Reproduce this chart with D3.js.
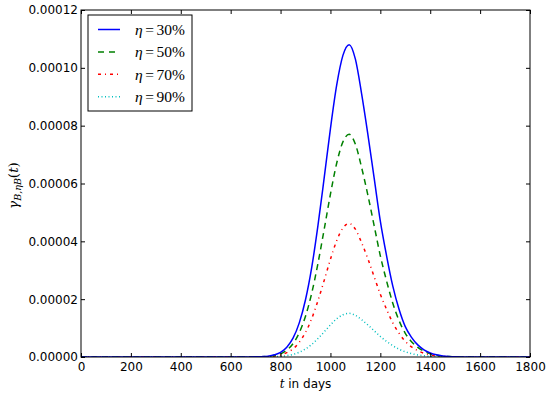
<!DOCTYPE html>
<html>
<head>
<meta charset="utf-8">
<script src="https://cdnjs.cloudflare.com/ajax/libs/d3/7.8.5/d3.min.js"></script>
<style>
body { margin: 0; background: #fff; }
.tick text { font-family: "DejaVu Sans", sans-serif; font-size: 12px; fill: #000; }
.tick line { stroke: #000; }
</style>
</head>
<body>
<div id="chart-area"></div>
<script>
/*
*    gamma curves for different eta
*/

// sample days
var days = [0, 650, 675, 700, 725, 750, 775, 800, 825, 850, 875, 900, 925, 950, 975,
    1000, 1025, 1050, 1075, 1100, 1125, 1150, 1175, 1200, 1225, 1250, 1275, 1300,
    1325, 1350, 1375, 1400, 1425, 1450, 1475, 1500, 1525, 1550, 1800];

// values in units of 1e-6
var eta30 = [0, 0.01, 0.02, 0.05, 0.12, 0.3, 0.75, 1.6, 3.4, 6.5, 11.8, 19.8, 31, 45.5, 62,
    79, 94, 104.3, 108, 103, 91, 77, 62, 47, 35, 24.5, 16.5, 10.5,
    6.8, 4.2, 2.5, 1.4, 0.75, 0.38, 0.18, 0.08, 0.03, 0, 0];
var eta50 = [0, 0, 0.01, 0.03, 0.08, 0.2, 0.5, 1.1, 2.4, 4.6, 8.4, 14.1, 22.1, 32.4, 44.2,
    56.3, 67, 74.4, 77, 73.6, 65.5, 56, 45.5, 35, 26.3, 18.6, 12.6, 8.2,
    5.3, 3.3, 2, 1.1, 0.6, 0.3, 0.14, 0.06, 0.02, 0, 0];
var eta70 = [0, 0, 0, 0.02, 0.05, 0.13, 0.32, 0.7, 1.5, 2.8, 5.1, 8.5, 13.3, 19.5, 26.5,
    33.8, 40.2, 44.6, 46.2, 44.2, 39.5, 34, 27.8, 21.7, 16.5, 11.8, 8.2, 5.4,
    3.5, 2.2, 1.3, 0.75, 0.4, 0.2, 0.09, 0.04, 0.01, 0, 0];
var eta90 = [0, 0, 0, 0.01, 0.02, 0.04, 0.1, 0.22, 0.48, 0.9, 1.65, 2.8, 4.35, 6.4, 8.7,
    11.1, 13.2, 14.6, 15.1, 14.4, 12.9, 11.1, 9.1, 7.1, 5.4, 3.9, 2.7, 1.8,
    1.15, 0.72, 0.43, 0.25, 0.13, 0.07, 0.03, 0.01, 0, 0, 0];

var seriesNames = ["30%", "50%", "70%", "90%"];
var xTicks = [0, 200, 400, 600, 800, 1000, 1200, 1400, 1600, 1800];
var yTicks = [0, 0.00002, 0.00004, 0.00006, 0.00008, 0.0001, 0.00012];

var margin = { left: 81, right: 20, top: 10, bottom: 37 },
    width = 550 - margin.left - margin.right,
    height = 394 - margin.top - margin.bottom;

var svg = d3.select("#chart-area").append("svg")
    .attr("width", 550)
    .attr("height", 394)
    .style("background", "#fff");
var g = svg.append("g")
    .attr("transform", "translate(" + margin.left + "," + margin.top + ")");

var x = d3.scaleLinear().domain([0, 1800]).range([0, width]);
var y = d3.scaleLinear().domain([0, 0.00012]).range([height, 0]);

g.append("clipPath").attr("id", "clip")
    .append("rect").attr("width", width).attr("height", height);

var styles = [
    { color: "#0000ff", dash: null },
    { color: "#008000", dash: "6,4.5" },
    { color: "#ff0000", dash: "3,4,1,4" },
    { color: "#00bfbf", dash: "1,2.5" }
];
var allSeries = [eta30, eta50, eta70, eta90];

var line = d3.line()
    .x((d, i) => x(days[i]))
    .y(d => y(d * 1e-6))
    .curve(d3.curveMonotoneX);

// lines, last first so blue sits on top
for (var k = allSeries.length - 1; k >= 0; k--) {
    g.append("path")
        .attr("clip-path", "url(#clip)")
        .attr("fill", "none")
        .attr("stroke", styles[k].color)
        .attr("stroke-width", 1.5)
        .attr("stroke-dasharray", styles[k].dash)
        .attr("d", line(allSeries[k]));
}

// axes, ticks pointing inward
var xAxis = g.append("g")
    .attr("transform", "translate(0," + height + ")")
    .call(d3.axisBottom(x).tickValues(xTicks).tickSize(-4).tickSizeOuter(0).tickPadding(5)
        .tickFormat(d3.format("d")));
var yAxis = g.append("g")
    .call(d3.axisLeft(y).tickValues(yTicks).tickSize(-4).tickSizeOuter(0).tickPadding(3)
        .tickFormat(d3.format(".5f")));
g.append("g")
    .call(d3.axisTop(x).tickValues(xTicks).tickSize(-4).tickSizeOuter(0).tickFormat(""));
g.append("g")
    .attr("transform", "translate(" + width + ",0)")
    .call(d3.axisRight(y).tickValues(yTicks).tickSize(-4).tickSizeOuter(0).tickFormat(""));
g.selectAll(".domain").remove();

// frame
g.append("rect")
    .attr("width", width)
    .attr("height", height)
    .attr("fill", "none")
    .attr("stroke", "#000")
    .attr("stroke-width", 1);

// labels
var xLabel = g.append("text")
    .attr("x", width / 2)
    .attr("y", height + 31)
    .attr("text-anchor", "middle")
    .attr("font-family", "DejaVu Sans, sans-serif")
    .attr("font-size", "12px");
xLabel.append("tspan")
    .attr("font-family", "DejaVu Serif, serif")
    .attr("font-style", "italic")
    .text("t");
xLabel.append("tspan").text(" in days");

var yLabel = svg.append("text")
    .attr("transform", "translate(18," + (margin.top + height / 2 + 2) + ") rotate(-90)")
    .attr("text-anchor", "middle")
    .attr("font-family", "DejaVu Serif, serif")
    .attr("font-size", "13.5px");
yLabel.append("tspan").attr("font-style", "italic").text("γ");
yLabel.append("tspan").attr("font-style", "italic").attr("font-size", "9.5px")
    .attr("dy", 3).text("B,ηB");
yLabel.append("tspan").attr("dy", -3).text("(");
yLabel.append("tspan").attr("font-style", "italic").text("t");
yLabel.append("tspan").text(")");

// legend
var legend = svg.append("g").attr("transform", "translate(88,15)");
legend.append("rect")
    .attr("width", 104)
    .attr("height", 96)
    .attr("fill", "#fff")
    .attr("stroke", "#000")
    .attr("stroke-width", 1);
var legendDash = [null, "6,5", "3,4,1,4", "1,2.5"];
seriesNames.forEach((name, i) => {
    var row = legend.append("g")
        .attr("transform", "translate(0," + (14.5 + i * 22.4) + ")");
    row.append("line")
        .attr("x1", 10).attr("x2", 32)
        .attr("stroke", styles[i].color)
        .attr("stroke-width", 1.5)
        .attr("stroke-dasharray", legendDash[i]);
    var t = row.append("text")
        .attr("x", 47)
        .attr("dy", "0.35em")
        .attr("font-family", "Liberation Serif, serif")
        .attr("font-size", "15.5px");
    t.append("tspan").attr("font-style", "italic").text("η");
    t.append("tspan").attr("dx", 2.5).text("=");
    t.append("tspan").attr("dx", 2.5).text(name);
});
</script>
</body>
</html>
